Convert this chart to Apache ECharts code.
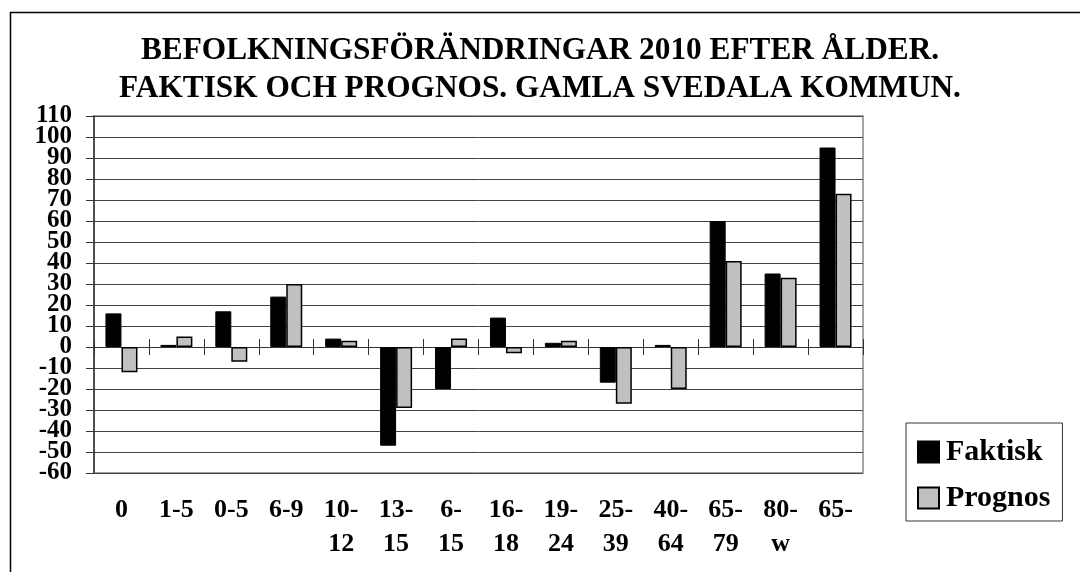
<!DOCTYPE html>
<html>
<head>
<meta charset="utf-8">
<title>Befolkningsförändringar 2010</title>
<script src="https://cdn.jsdelivr.net/npm/echarts@6/dist/echarts.min.js"></script>
<style>
    html, body { margin: 0; padding: 0; background: #fff; }
    #chart { width: 1080px; height: 572px; }
</style>
</head>
<body>
<div id="chart"></div>
<script>
    // åldersgrupper
    var categories = ['0', '1-5', '0-5', '6-9', '10-\n12', '13-\n15', '6-\n15', '16-\n18',
                      '19-\n24', '25-\n39', '40-\n64', '65-\n79', '80-\nw', '65-'];
    // faktisk förändring
    var faktisk = [16, 1, 17, 24, 4, -47, -20, 14, 2, -17, 1, 60, 35, 95];
    // prognos
    var prognos = [-12, 5, -7, 30, 3, -29, 4, -3, 3, -27, -20, 41, 33, 73];
    var yMin = -60, yMax = 110, yStep = 10;
    // y-etiketterna står tätt, så de delas på två axlar
    var yLabelsA = [110, 90, 70, 50, 30, 10, -10, -30, -50];
    var yLabelsB = [100, 80, 60, 40, 20, 0, -20, -40, -60];

    var font = "'Liberation Serif', 'Times New Roman', serif";
    var chart = echarts.init(document.getElementById('chart'));

    var yLabelStyle = {
        margin: 22,
        fontFamily: font,
        fontSize: 25,
        fontWeight: 'bold',
        color: '#000'
    };

    chart.setOption({
        animation: false,
        backgroundColor: '#fff',
        textStyle: { fontFamily: font },
        title: {
            text: 'BEFOLKNINGSFÖRÄNDRINGAR 2010 EFTER ÅLDER.\nFAKTISK OCH PROGNOS. GAMLA SVEDALA KOMMUN.',
            left: 'center',
            top: 32,
            padding: 0,
            textStyle: {
                fontFamily: font,
                fontSize: 31.3,
                fontWeight: 'bold',
                lineHeight: 38,
                color: '#000'
            }
        },
        legend: {
            orient: 'vertical',
            left: 906,
            top: 423,
            padding: [14, 12, 8, 11],
            itemWidth: 21,
            itemHeight: 21,
            itemGap: 16,
            icon: 'rect',
            borderColor: '#333',
            borderWidth: 1,
            textStyle: { fontFamily: font, fontSize: 30, fontWeight: 'bold', color: '#000', padding: [0, 0, 0, 2] },
            data: ['Faktisk', 'Prognos']
        },
        grid: {
            left: 94,
            right: 217,
            top: 116,
            bottom: 99,
            show: true,
            borderColor: '#888',
            borderWidth: 1.5
        },
        xAxis: [
            {
                // etiketter längst ner
                type: 'category',
                position: 'bottom',
                data: categories,
                axisLine: { show: false, onZero: false },
                axisTick: { show: false },
                axisLabel: {
                    interval: 0,
                    margin: 20,
                    fontFamily: font,
                    fontSize: 26,
                    fontWeight: 'bold',
                    lineHeight: 34,
                    color: '#000',
                    align: 'center'
                }
            },
            {
                // streck nedåt vid noll
                type: 'category',
                position: 'bottom',
                data: categories,
                axisLine: { show: true, onZero: true, onZeroAxisIndex: 0, lineStyle: { color: '#333', width: 1 } },
                axisTick: { show: true, length: 8, lineStyle: { color: '#333', width: 1 } },
                axisLabel: { show: false }
            },
            {
                // streck uppåt vid noll
                type: 'category',
                position: 'bottom',
                data: categories,
                axisLine: { show: false, onZero: true, onZeroAxisIndex: 1 },
                axisTick: { show: true, inside: true, length: 8, lineStyle: { color: '#333', width: 1 } },
                axisLabel: { show: false }
            }
        ],
        yAxis: [
            {
                type: 'value',
                position: 'left',
                min: yMin,
                max: yMax,
                interval: yStep,
                axisLine: { show: true, lineStyle: { color: '#333', width: 1.5 } },
                axisTick: { show: true, length: 8, lineStyle: { color: '#333', width: 1 } },
                axisLabel: Object.assign({ customValues: yLabelsA }, yLabelStyle),
                splitLine: { show: true, lineStyle: { color: '#444', width: 1 } }
            },
            {
                type: 'value',
                position: 'left',
                offset: 0,
                min: yMin,
                max: yMax,
                interval: yStep,
                axisLine: { show: false, onZero: false },
                axisTick: { show: false },
                axisLabel: Object.assign({ customValues: yLabelsB }, yLabelStyle),
                splitLine: { show: false }
            }
        ],
        series: [
            {
                name: 'Faktisk',
                type: 'bar',
                data: faktisk,
                barWidth: 16,
                barGap: '0%',
                itemStyle: { color: '#000', borderColor: '#000', borderWidth: 1 }
            },
            {
                name: 'Prognos',
                type: 'bar',
                data: prognos,
                barWidth: 16,
                barGap: '0%',
                itemStyle: { color: '#c0c0c0', borderColor: '#000', borderWidth: 1.5 }
            }
        ],
        graphic: [
            {
                // ram runt hela diagrammet
                type: 'rect',
                silent: true,
                z: -1,
                shape: { x: 10.5, y: 12.5, width: 1200, height: 700 },
                style: { fill: 'none', stroke: '#000', lineWidth: 1.5 }
            }
        ]
    });
</script>
</body>
</html>
